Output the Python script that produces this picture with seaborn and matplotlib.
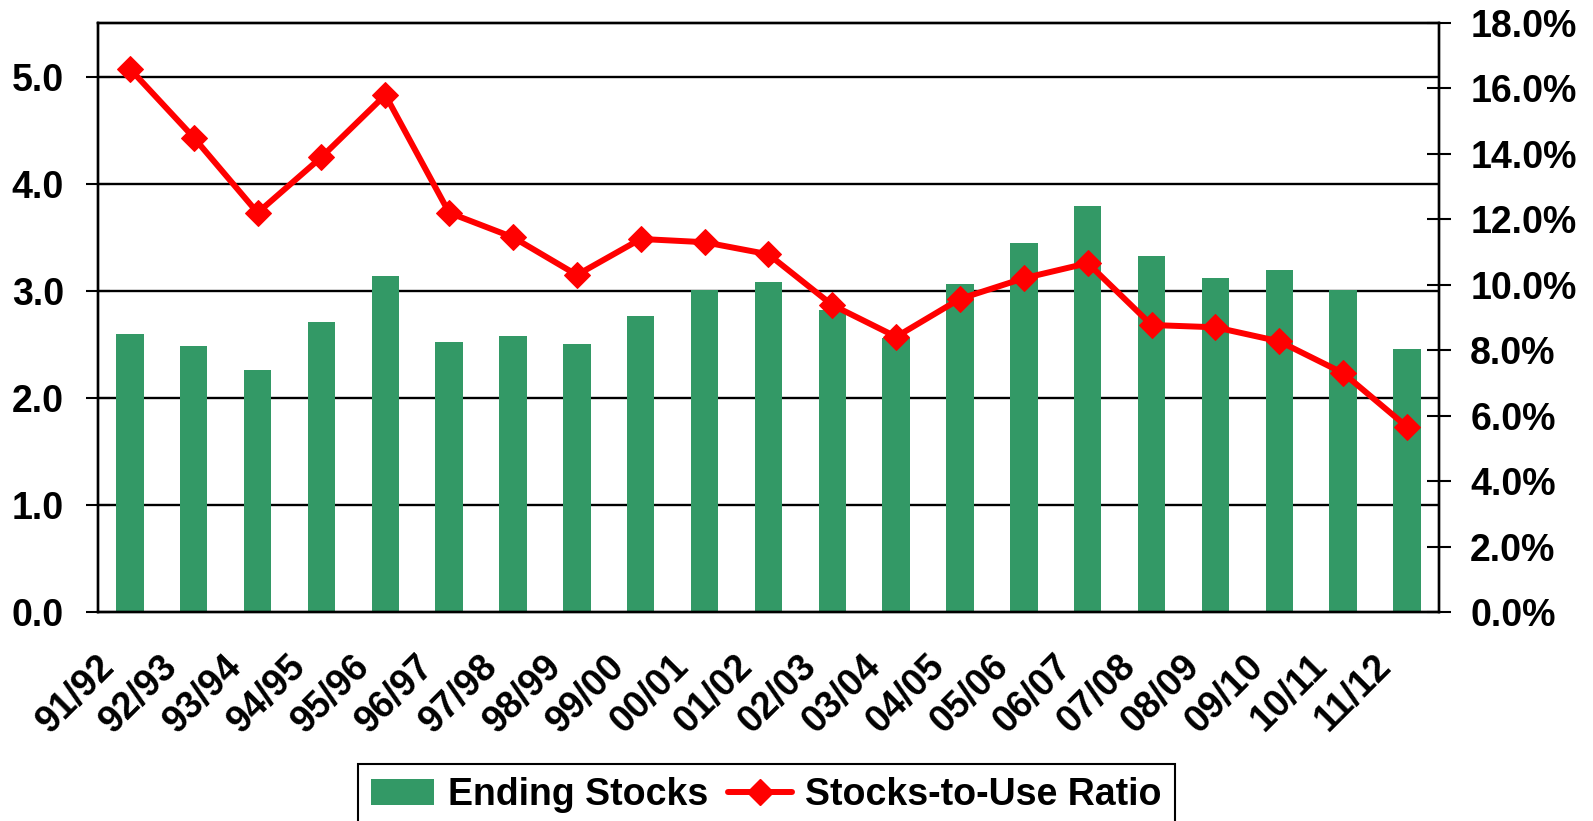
import numpy as np
import pandas as pd
import matplotlib
matplotlib.use("Agg")
import matplotlib.pyplot as plt
import matplotlib.transforms as mtransforms
from matplotlib.patches import Patch
from matplotlib.lines import Line2D
import seaborn as sns

# data
seasons = ["91/92", "92/93", "93/94", "94/95", "95/96", "96/97", "97/98",
           "98/99", "99/00", "00/01", "01/02", "02/03", "03/04", "04/05",
           "05/06", "06/07", "07/08", "08/09", "09/10", "10/11", "11/12"]
ending_stocks = [2.60, 2.48, 2.26, 2.71, 3.14, 2.52, 2.58,
                 2.50, 2.76, 3.01, 3.08, 2.82, 2.56, 3.06,
                 3.45, 3.79, 3.32, 3.12, 3.19, 3.01, 2.46]
stocks_to_use = [16.6, 14.5, 12.2, 13.9, 15.8, 12.2, 11.45,
                 10.3, 11.4, 11.3, 10.93, 9.38, 8.41, 9.57,
                 10.2, 10.66, 8.77, 8.7, 8.27, 7.3, 5.66]
left_ticks = [0, 1, 2, 3, 4, 5]
right_ticks = [0, 2, 4, 6, 8, 10, 12, 14, 16, 18]

green = "#339966"
red = "#ff0000"

df = pd.DataFrame({"season": seasons, "stocks": ending_stocks, "ratio": stocks_to_use})
df["pos"] = np.arange(len(df))

sns.set_style("white")
plt.rcParams["font.family"] = ["Liberation Sans", "DejaVu Sans"]
plt.rcParams["font.weight"] = "bold"
plt.rcParams["text.color"] = "black"
plt.rcParams["xtick.color"] = "black"
plt.rcParams["ytick.color"] = "black"
plt.rcParams["axes.labelcolor"] = "black"

fig = plt.figure(figsize=(15.93, 8.21), dpi=100)
ax = fig.add_axes([0.0615, 0.2546, 0.8418, 0.7174])

# grid lines
for v in left_ticks[1:]:
    ax.axhline(v, color="black", lw=1.7, zorder=0)

sns.barplot(data=df, x="season", y="stocks", color=green, saturation=1,
            width=0.43, ax=ax, zorder=2, edgecolor="none")

ax.set_xlim(-0.5, len(seasons) - 0.5)
ax.set_ylim(0, 5.5)
ax.set_yticks(left_ticks)
ax.set_yticklabels([f"{v:.1f}" for v in left_ticks])
ax.set_xlabel("")
ax.set_ylabel("")

# category labels at centres, tick marks at boundaries
ax.set_xticks(df["pos"])
ax.set_xticklabels(seasons, rotation=45, ha="right", va="top", rotation_mode="anchor")
ax.set_xticks(np.arange(-0.5, len(seasons), 1), minor=True)
ax.tick_params(axis="x", which="major", length=0, pad=26, labelsize=27)
ax.tick_params(axis="x", which="minor", direction="inout", length=17, width=1.5)
ax.tick_params(axis="y", direction="inout", length=17, width=1.5, pad=16, labelsize=27)
off = mtransforms.ScaledTranslation(-34 / 100, 0, fig.dpi_scale_trans)
for lab in ax.get_xticklabels():
    lab.set_transform(lab.get_transform() + off)
    lab.set_fontweight("bold")
for lab in ax.get_yticklabels():
    lab.set_fontweight("bold")

for s in ax.spines.values():
    s.set_color("black")
    s.set_linewidth(1.7)
    s.set_visible(True)

ax2 = ax.twinx()
sns.lineplot(data=df, x="pos", y="ratio", color=red, lw=4.3, marker="D",
             markersize=13.5, markeredgecolor=red, ax=ax2, zorder=5)
ax2.set_ylim(0, 18)
ax2.set_yticks(right_ticks)
ax2.set_yticklabels([f"{v:.1f}%" for v in right_ticks], fontweight="bold")
ax2.set_ylabel("")
ax2.set_xlabel("")
ax2.tick_params(axis="y", direction="inout", length=17, width=1.5, pad=14, labelsize=27)
for s in ax2.spines.values():
    s.set_linewidth(1.7)
    s.set_color("black")
ax2.set_xlim(-0.5, len(seasons) - 0.5)

handles = [Patch(facecolor=green, edgecolor="none"),
           Line2D([], [], color=red, lw=4.3, marker="D", markersize=13.5)]
leg = fig.legend(handles, ["Ending Stocks", "Stocks-to-Use Ratio"],
                 loc="upper center", bbox_to_anchor=(0.481, 0.069), ncol=2,
                 frameon=True, fancybox=False, framealpha=1, edgecolor="black",
                 prop={"size": 27, "weight": "bold"}, handlelength=1.7,
                 handletextpad=0.35, columnspacing=0.55, borderpad=0.35,
                 borderaxespad=0)
leg.get_frame().set_linewidth(1.5)

fig.savefig("out.png", dpi=100)
